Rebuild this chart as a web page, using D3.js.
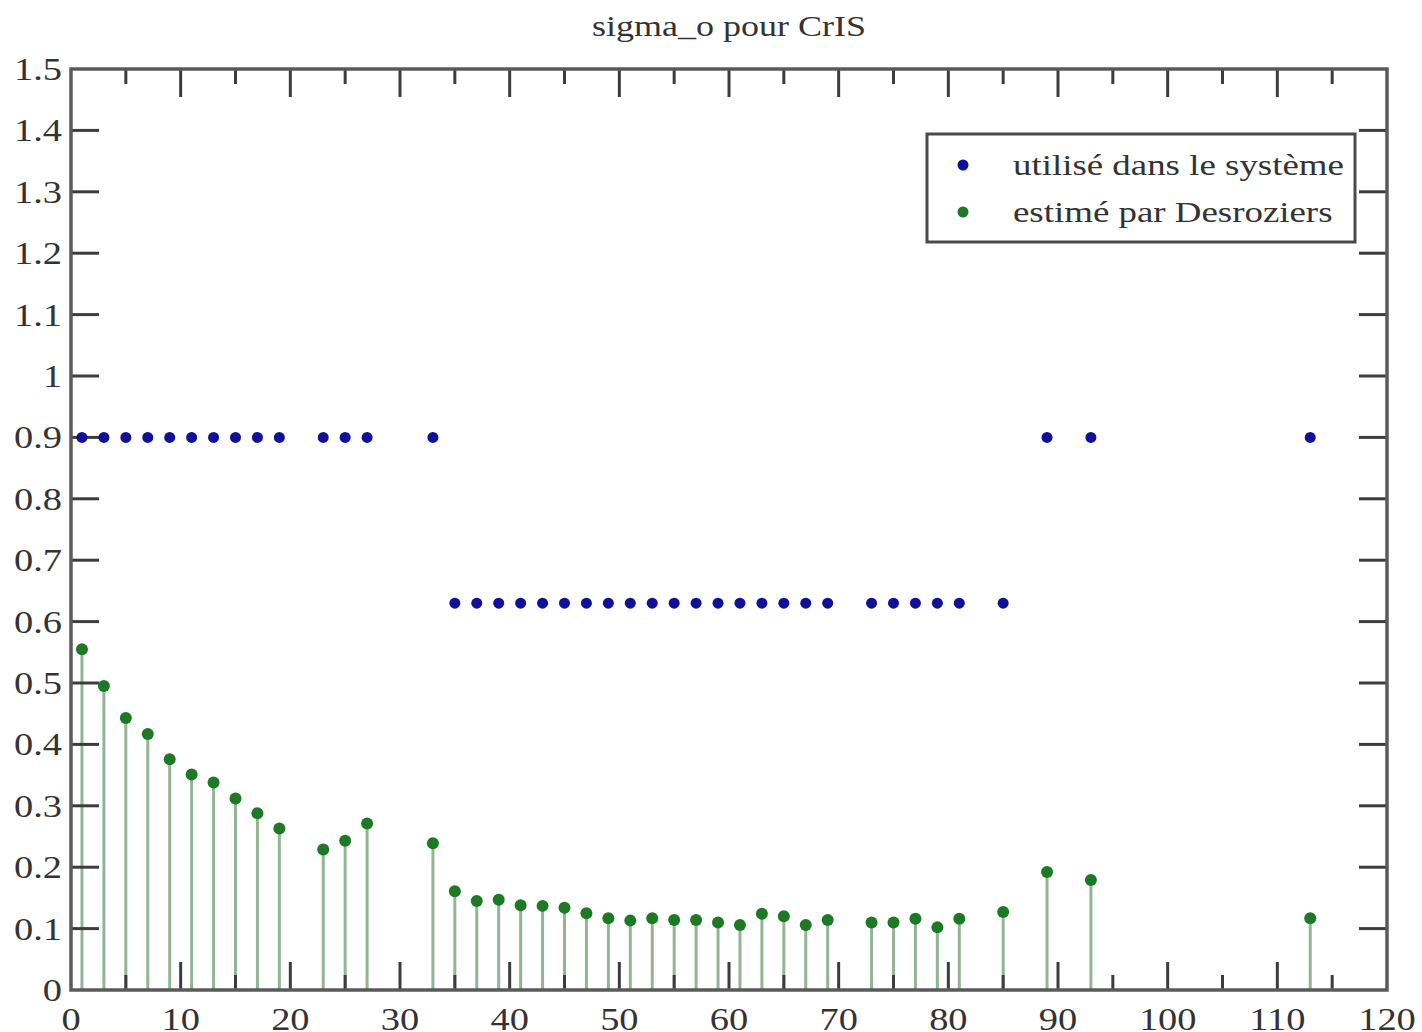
<!DOCTYPE html>
<html lang="fr">
  <head>
    <meta charset="utf-8">
    <title>sigma_o pour CrIS</title>
    <script src="https://d3js.org/d3.v7.min.js"></script>
    <style>
      body { margin: 0; background: #fff; }
      text { font-family: "Liberation Serif", "DejaVu Serif", serif; fill: #333; }
    </style>
  </head>
  <body>
    <div id="chart"></div>
    <script>
      // channel index (x) and the two sigma_o series
      var channels = [1, 3, 5, 7, 9, 11, 13, 15, 17, 19, 23, 25, 27, 33,
                      35, 37, 39, 41, 43, 45, 47, 49, 51, 53, 55, 57, 59, 61, 63, 65, 67, 69,
                      73, 75, 77, 79, 81, 85, 89, 93, 113];
      var sigmaUsed = [0.9, 0.9, 0.9, 0.9, 0.9, 0.9, 0.9, 0.9, 0.9, 0.9, 0.9, 0.9, 0.9, 0.9,
                       0.63, 0.63, 0.63, 0.63, 0.63, 0.63, 0.63, 0.63, 0.63, 0.63, 0.63, 0.63, 0.63, 0.63, 0.63, 0.63, 0.63, 0.63,
                       0.63, 0.63, 0.63, 0.63, 0.63, 0.63, 0.9, 0.9, 0.9];
      var sigmaDesroziers = [0.555, 0.495, 0.443, 0.417, 0.376, 0.351, 0.338, 0.312, 0.288, 0.263, 0.229, 0.243, 0.271, 0.239,
                             0.161, 0.145, 0.147, 0.138, 0.137, 0.134, 0.125, 0.117, 0.113, 0.117, 0.114, 0.114, 0.110, 0.106, 0.124, 0.120, 0.106, 0.114,
                             0.110, 0.110, 0.116, 0.102, 0.116, 0.127, 0.192, 0.179, 0.117];
      var xTicks = [0, 10, 20, 30, 40, 50, 60, 70, 80, 90, 100, 110, 120];
      var yTicks = [0, 0.1, 0.2, 0.3, 0.4, 0.5, 0.6, 0.7, 0.8, 0.9, 1, 1.1, 1.2, 1.3, 1.4, 1.5];
      var legendLabels = ["utilisé dans le système", "estimé par Desroziers"];
      var title = "sigma_o pour CrIS";

      var width = 1422, height = 1032;
      var mLeft = 71, mRight = 1387, mTop = 69, mBottom = 990;
      var blue = "#10109a", green = "#1d7a24", stem = "#93b496";

      var svg = d3.select("#chart").append("svg")
          .attr("width", width)
          .attr("height", height);

      var x = d3.scaleLinear().domain([0, 120]).range([mLeft, mRight]);
      var y = d3.scaleLinear().domain([0, 1.5]).range([mBottom, mTop]);

      var pts = channels.map(function(c, i) {
        return {x: c, used: sigmaUsed[i], est: sigmaDesroziers[i]};
      });

      // stems for desroziers estimate
      svg.selectAll(".stem")
        .data(pts)
        .enter().append("line")
        .attr("class", "stem")
        .attr("x1", function(d) { return x(d.x); })
        .attr("x2", function(d) { return x(d.x); })
        .attr("y1", y(0))
        .attr("y2", function(d) { return y(d.est); })
        .attr("stroke", stem)
        .attr("stroke-width", 3);

      // ticks (inside the frame)
      var minorX = d3.range(5, 120, 10);
      var tickCol = "#3c3c3c";
      function vTicks(vals, len, y0, dir) {
        svg.selectAll(null).data(vals).enter().append("line")
          .attr("x1", function(d) { return x(d); })
          .attr("x2", function(d) { return x(d); })
          .attr("y1", y0)
          .attr("y2", y0 + dir * len)
          .attr("stroke", tickCol)
          .attr("stroke-width", 3);
      }
      vTicks(xTicks.slice(1, -1), 28, mBottom, -1);
      vTicks(minorX, 15, mBottom, -1);
      vTicks(xTicks.slice(1, -1), 28, mTop, 1);
      vTicks(minorX, 15, mTop, 1);

      svg.selectAll(null).data(yTicks.slice(1, -1)).enter().append("line")
        .attr("x1", mLeft).attr("x2", mLeft + 28)
        .attr("y1", function(d) { return y(d); })
        .attr("y2", function(d) { return y(d); })
        .attr("stroke", tickCol).attr("stroke-width", 3);
      svg.selectAll(null).data(yTicks.slice(1, -1)).enter().append("line")
        .attr("x1", mRight).attr("x2", mRight - 28)
        .attr("y1", function(d) { return y(d); })
        .attr("y2", function(d) { return y(d); })
        .attr("stroke", tickCol).attr("stroke-width", 3);

      // frame
      svg.append("rect")
        .attr("x", mLeft).attr("y", mTop)
        .attr("width", mRight - mLeft).attr("height", mBottom - mTop)
        .attr("fill", "none")
        .attr("stroke", "#5a5a5a")
        .attr("stroke-width", 3.5);

      // markers
      svg.selectAll(".est")
        .data(pts)
        .enter().append("circle")
        .attr("cx", function(d) { return x(d.x); })
        .attr("cy", function(d) { return y(d.est); })
        .attr("r", 6)
        .attr("fill", green);

      svg.selectAll(".used")
        .data(pts)
        .enter().append("circle")
        .attr("cx", function(d) { return x(d.x); })
        .attr("cy", function(d) { return y(d.used); })
        .attr("r", 5.5)
        .attr("fill", blue);

      // tick labels
      var fmt = function(d) { return d3.format("")(Math.round(d * 10) / 10); };
      svg.selectAll(".ylab").data(yTicks).enter().append("text")
        .attr("transform", function(d) { return "translate(62," + (y(d) + 11) + ") scale(1.2,1)"; })
        .attr("text-anchor", "end")
        .attr("font-size", 32)
        .text(fmt);

      svg.selectAll(".xlab").data(xTicks).enter().append("text")
        .attr("transform", function(d) { return "translate(" + x(d) + "," + 1030 + ") scale(1.2,1)"; })
        .attr("text-anchor", "middle")
        .attr("font-size", 32)
        .text(fmt);

      // title
      svg.append("text")
        .attr("transform", "translate(729,36) scale(1.2,1)")
        .attr("text-anchor", "middle")
        .attr("font-size", 30)
        .text(title);

      // legend
      var lg = svg.append("g");
      lg.append("rect")
        .attr("x", 927).attr("y", 134)
        .attr("width", 428).attr("height", 108)
        .attr("fill", "#fff")
        .attr("stroke", "#4a4a4a")
        .attr("stroke-width", 3);
      [blue, green].forEach(function(c, i) {
        lg.append("circle")
          .attr("cx", 963).attr("cy", 165 + i * 47)
          .attr("r", 5.5).attr("fill", c);
        lg.append("text")
          .attr("transform", "translate(1013," + (175 + i * 47) + ") scale(1.23,1)")
          .attr("font-size", 30)
          .text(legendLabels[i]);
      });
    </script>
  </body>
</html>
